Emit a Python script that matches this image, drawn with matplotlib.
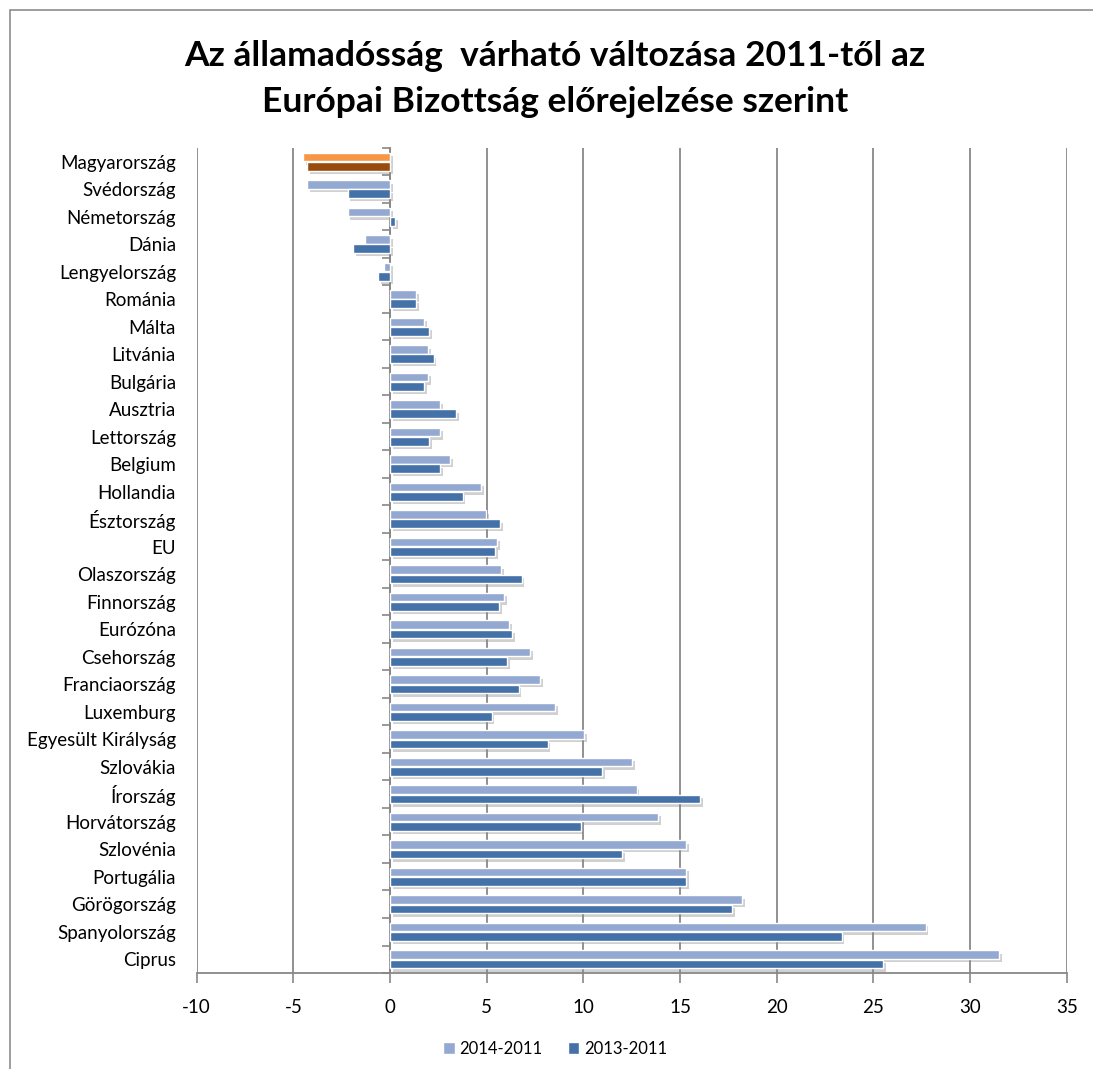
"""
Az államadósság várható változása 2011-től (EB előrejelzés) - horizontal bars
"""

import numpy as np
import matplotlib
matplotlib.use("Agg")
import matplotlib.pyplot as plt
import matplotlib.patheffects as pe
from matplotlib.patches import Patch, Rectangle

countries = [
    "Magyarország", "Svédország", "Németország", "Dánia", "Lengyelország",
    "Románia", "Málta", "Litvánia", "Bulgária", "Ausztria", "Lettország",
    "Belgium", "Hollandia", "Észtország", "EU", "Olaszország", "Finnország",
    "Eurózóna", "Csehország", "Franciaország", "Luxemburg",
    "Egyesült Királyság", "Szlovákia", "Írország", "Horvátország",
    "Szlovénia", "Portugália", "Görögország", "Spanyolország", "Ciprus",
]
chg_2014 = [-4.5, -4.3, -2.2, -1.3, -0.3, 1.35, 1.75, 1.95, 1.95, 2.6, 2.6,
            3.1, 4.7, 4.95, 5.55, 5.75, 5.9, 6.15, 7.25, 7.75, 8.55,
            10.05, 12.5, 12.75, 13.85, 15.3, 15.3, 18.2, 27.7, 31.5]
chg_2013 = [-4.3, -2.2, 0.25, -1.9, -0.6, 1.35, 2.0, 2.25, 1.75, 3.4, 2.0,
            2.6, 3.75, 5.7, 5.45, 6.8, 5.65, 6.3, 6.05, 6.65, 5.25,
            8.15, 10.95, 16.05, 9.85, 12.0, 15.3, 17.7, 23.35, 25.5]
series_names = ["2014-2011", "2013-2011"]
highlight = "Magyarország"

LIGHT = "#93A9D1"
DARK = "#4471A8"
LIGHT_HU = "#F79646"
DARK_HU = "#984B0C"
GRID = "#888888"

plt.rcParams["font.family"] = ["Lato", "DejaVu Sans"]
plt.rcParams["axes.unicode_minus"] = False

fig = plt.figure(figsize=(10.93, 10.69), dpi=100)
ax = fig.add_axes([0.180, 0.0898, 0.796, 0.7718])

# outer chart border (left and top only visible in the original)
fig.add_artist(Rectangle((10 / 1093, -0.1), 1.2, 1 - 10 / 1069 + 0.1,
                         transform=fig.transFigure, fill=False,
                         edgecolor="#8C8C8C", linewidth=1.2))

y = np.arange(len(countries))
h = 0.31
off = 0.165
shadow = [pe.SimplePatchShadow(offset=(2, -2.5), shadow_rgbFace="#8A8A8A",
                               alpha=0.4), pe.Normal()]

c14 = [LIGHT_HU if c == highlight else LIGHT for c in countries]
c13 = [DARK_HU if c == highlight else DARK for c in countries]
b1 = ax.barh(y - off, chg_2014, height=h, color=c14, edgecolor="white",
             linewidth=1.0, zorder=3)
b2 = ax.barh(y + off, chg_2013, height=h, color=c13, edgecolor="white",
             linewidth=1.0, zorder=3)
for bar in list(b1) + list(b2):
    bar.set_path_effects(shadow)

ax.set_xlim(-10, 35)
ax.set_ylim(len(countries) - 0.5, -0.5)
ax.set_xticks(np.arange(-10, 36, 5))
ax.set_yticks(y, countries)
ax.tick_params(axis="y", length=0, pad=15, labelsize=13.5)
ax.tick_params(axis="x", direction="out", length=7, width=1.2, color=GRID,
               pad=12, labelsize=13.5)
ax.grid(axis="x", color=GRID, linewidth=1.3, zorder=0)

for s in ["top", "right", "left"]:
    ax.spines[s].set_visible(False)
ax.spines["bottom"].set_color(GRID)
ax.spines["bottom"].set_linewidth(1.3)

# category axis crossing at zero, with ticks between categories
zero = ax.secondary_yaxis(10 / 45)
zero.set_yticks(np.arange(len(countries) + 1) - 0.5)
zero.set_yticklabels([])
zero.tick_params(direction="out", length=6, width=1.2, color=GRID)
zero.spines["left"].set_color(GRID)
zero.spines["left"].set_linewidth(1.3)

fig.text(0.508, 0.948, "Az államadósság  várható változása 2011-től az",
         ha="center", va="center", fontsize=25.5, fontweight="bold")
fig.text(0.508, 0.905, "Európai Bizottság előrejelzése szerint",
         ha="center", va="center", fontsize=25.5, fontweight="bold")

handles = [Patch(facecolor=LIGHT, edgecolor="white"),
           Patch(facecolor=DARK, edgecolor="white")]
fig.legend(handles, series_names, loc="center", bbox_to_anchor=(0.508, 0.019),
           ncol=2, frameon=False, fontsize=12, handlelength=0.7,
           handleheight=0.7, handletextpad=0.3, columnspacing=1.5)

fig.savefig("out.png", dpi=100)
